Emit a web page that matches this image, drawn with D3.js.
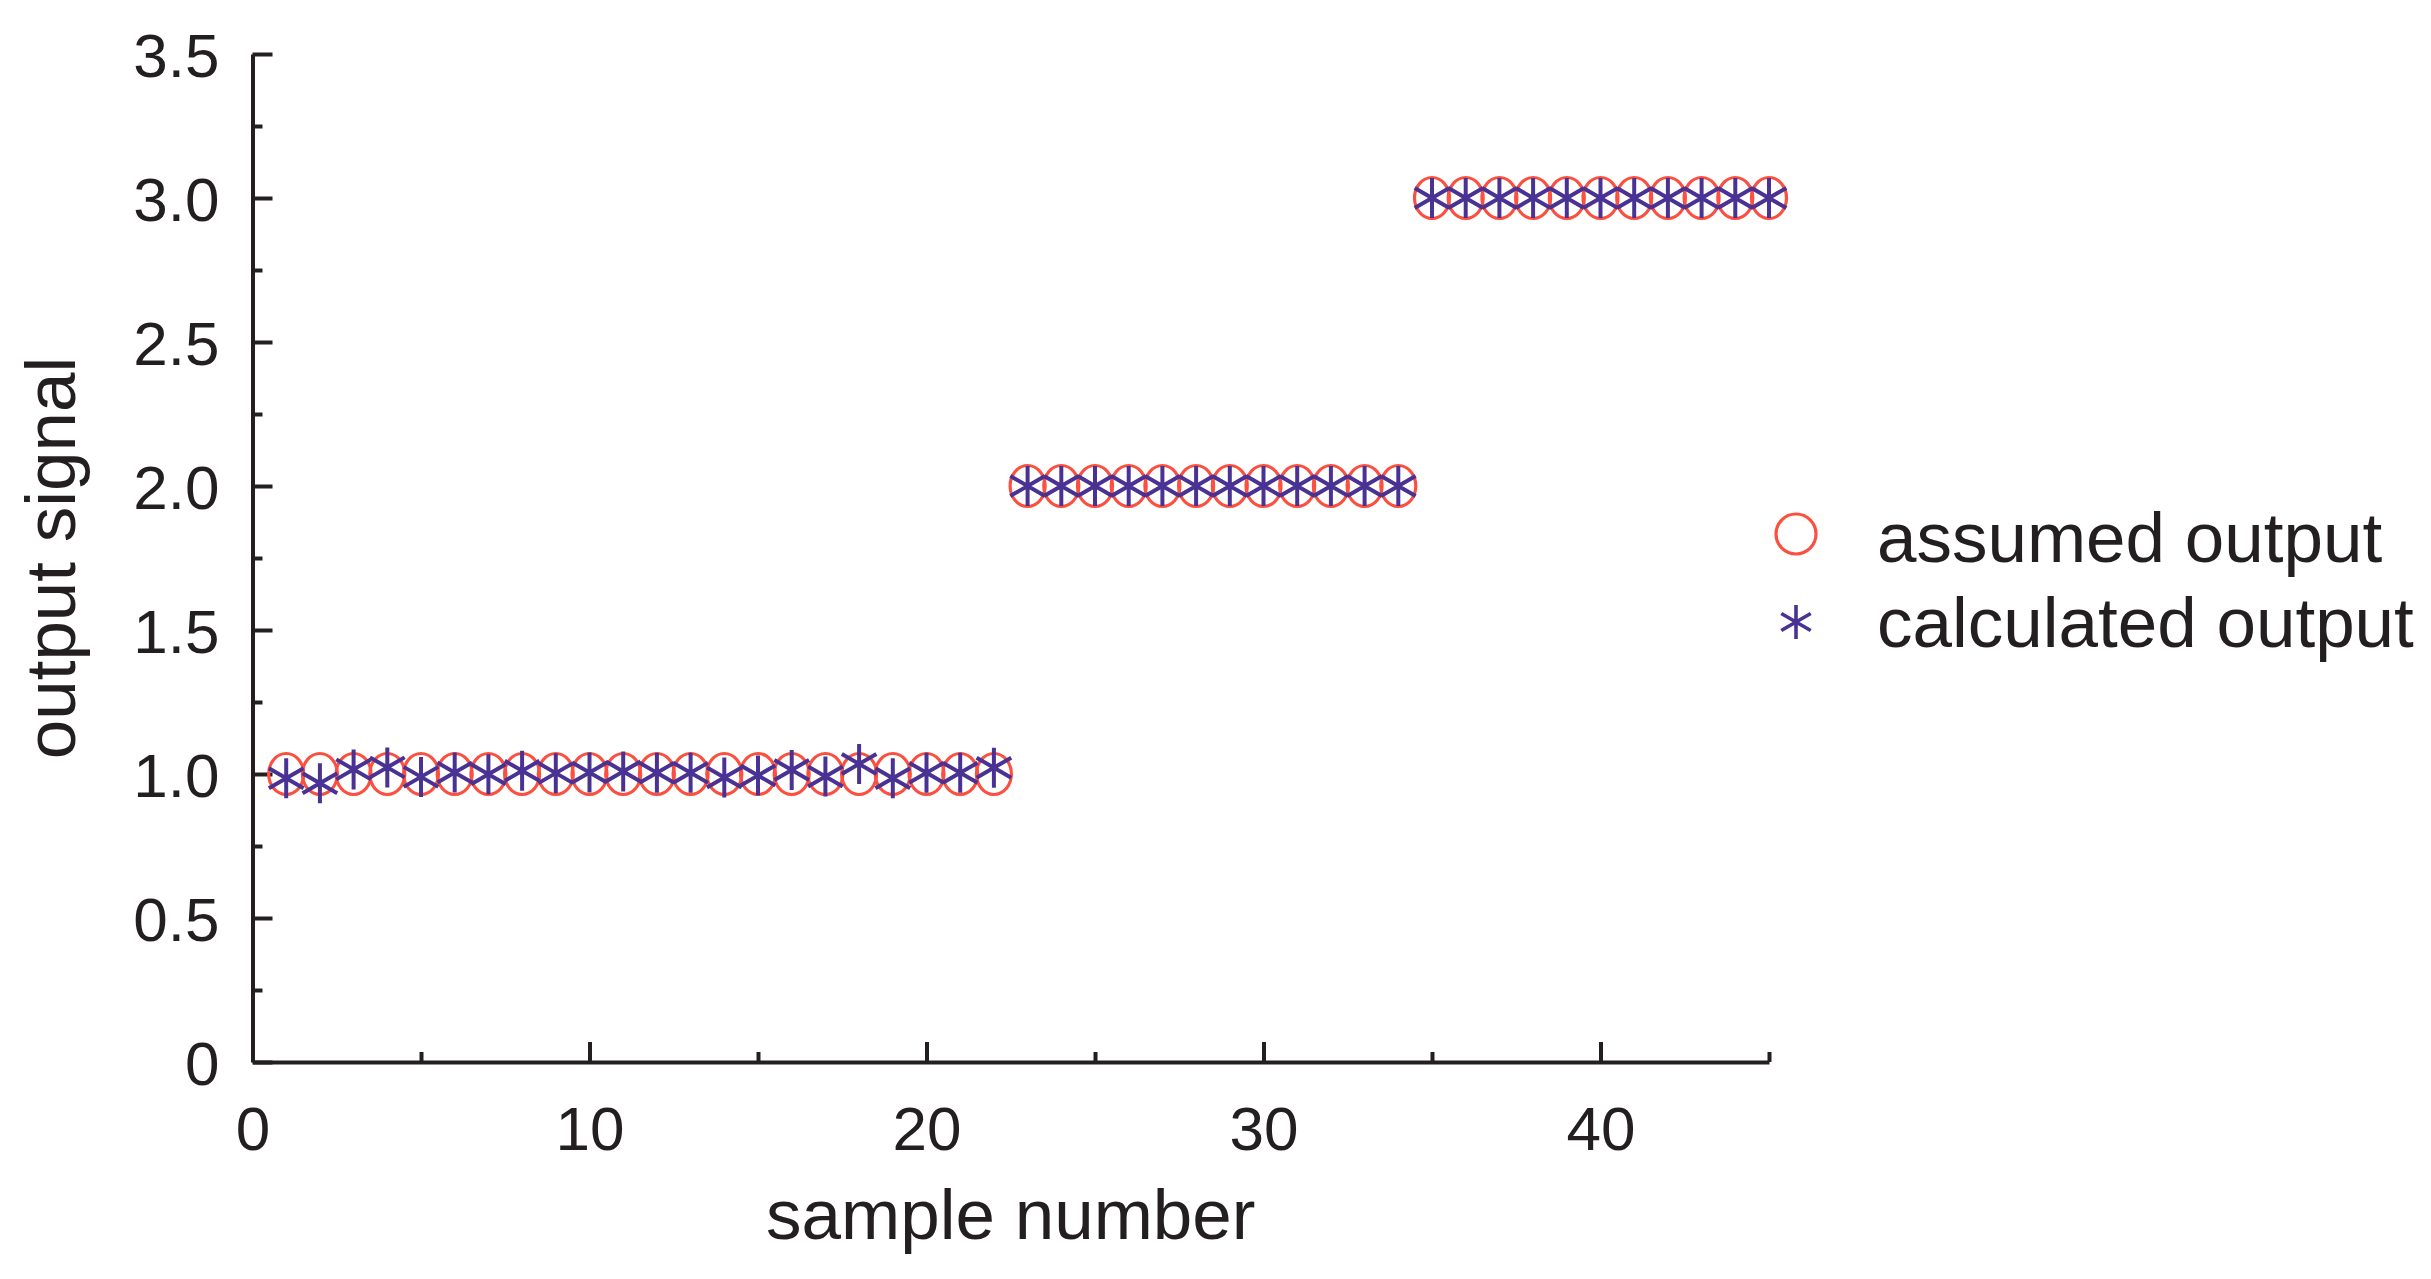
<!DOCTYPE html>
<html>
<head>
<meta charset="utf-8">
<script src="https://cdn.jsdelivr.net/npm/d3@7"></script>
<style>
  html, body { margin: 0; padding: 0; background: #fff; }
  svg { display: block; }
  text { font-family: "Liberation Sans", Arial, Helvetica, sans-serif; fill: #231f20; }
</style>
</head>
<body>
<svg id="chart" width="2431" height="1279"></svg>
<script>
// ---- data ----
const samples = [1,2,3,4,5,6,7,8,9,10,11,12,13,14,15,16,17,18,19,20,21,22,23,24,25,26,27,28,29,30,31,32,33,34,35,36,37,38,39,40,41,42,43,44,45];
const assumedOutput = [1,1,1,1,1,1,1,1,1,1,1,1,1,1,1,1,1,1,1,1,1,1,
                       2,2,2,2,2,2,2,2,2,2,2,2,
                       3,3,3,3,3,3,3,3,3,3,3];
const calculatedOutput = [0.985,0.968,1.016,1.023,0.990,1.005,0.999,1.011,1.003,1.005,1.009,1.004,1.004,0.988,0.995,1.014,0.991,1.035,0.985,1.004,1.004,1.022,
                          2.0,2.0,2.0,2.0,2.0,2.0,2.0,2.0,2.0,2.0,2.0,2.0,
                          3.0,3.0,3.0,3.0,3.0,3.0,3.0,3.0,3.0,3.0,3.0];
const xMajorTicks = [0,10,20,30,40];
const xMinorTicks = [5,15,25,35,45];
const yMajorTicks = [0,0.5,1.0,1.5,2.0,2.5,3.0,3.5];
const yTickLabels = ["0","0.5","1.0","1.5","2.0","2.5","3.0","3.5"];
const yMinorTicks = [0.25,0.75,1.25,1.75,2.25,2.75,3.25];
const seriesNames = ["assumed output","calculated output"];
const xTitle = "sample number";
const yTitle = "output signal";

// ---- layout ----
const axisColor = "#231f20";
const circleColor = "#fb5040";
const starColor = "#4a3294";

const svg = d3.select("#chart");
const x = d3.scaleLinear().domain([0,45]).range([252.5,1769]);
const y = d3.scaleLinear().domain([0,3.5]).range([1062,54]);

// axes
const gx = svg.append("g").attr("transform",`translate(0,${y(0)})`);
gx.call(d3.axisBottom(x).tickValues(xMajorTicks).tickSize(-20).tickSizeOuter(0).tickPadding(0).tickFormat(d3.format("d")));
const gxm = svg.append("g").attr("transform",`translate(0,${y(0)})`);
gxm.call(d3.axisBottom(x).tickValues(xMinorTicks).tickSize(-10).tickSizeOuter(0).tickFormat(""));
gxm.select(".domain").remove();

const gy = svg.append("g").attr("transform",`translate(${x(0)},0)`);
gy.call(d3.axisLeft(y).tickValues(yMajorTicks).tickSize(-20).tickSizeOuter(0).tickPadding(33)
  .tickFormat((d,i)=>yTickLabels[i]));
const gym = svg.append("g").attr("transform",`translate(${x(0)},0)`);
gym.call(d3.axisLeft(y).tickValues(yMinorTicks).tickSize(-10).tickSizeOuter(0).tickFormat(""));
gym.select(".domain").remove();

svg.selectAll(".domain").attr("stroke",axisColor).attr("stroke-width",4);
svg.selectAll(".tick line").attr("stroke",axisColor).attr("stroke-width",4);
svg.selectAll(".tick text").attr("font-size",62).attr("fill",axisColor)
   .style("font-family",'"Liberation Sans", Arial, sans-serif');
gx.selectAll(".tick text").attr("y",null).attr("dy",null).attr("transform",null)
   .attr("y",88);
gy.selectAll(".tick text").attr("dy","0.36em");

// axis titles
svg.append("text").attr("x",(x(0)+x(45))/2).attr("y",1239).attr("text-anchor","middle")
   .attr("font-size",71).text(xTitle);
svg.append("text").attr("transform",`translate(75,${(y(0)+y(3.5))/2}) rotate(-90)`)
   .attr("text-anchor","middle").attr("font-size",71).text(yTitle);

// markers
function starPath(r){
  const a = [90,30,-30].map(t=>t*Math.PI/180);
  return a.map(t=>`M${-r*Math.cos(t)},${r*Math.sin(t)}L${r*Math.cos(t)},${-r*Math.sin(t)}`).join("");
}
const pts = samples.map((s,i)=>({s, a:assumedOutput[i], c:calculatedOutput[i]}));

svg.append("g").selectAll("ellipse").data(pts).join("ellipse")
  .attr("cx",d=>x(d.s)).attr("cy",d=>y(d.a)).attr("rx",17.5).attr("ry",20.5)
  .attr("fill","none").attr("stroke",circleColor).attr("stroke-width",3.2);

svg.append("g").selectAll("path").data(pts).join("path")
  .attr("transform",d=>`translate(${x(d.s)},${y(d.c)})`)
  .attr("d",starPath(20)).attr("fill","none").attr("stroke",starColor).attr("stroke-width",4);

// legend
const lg = svg.append("g");
lg.append("circle").attr("cx",1796).attr("cy",534).attr("r",20)
  .attr("fill","none").attr("stroke",circleColor).attr("stroke-width",3.2);
lg.append("path").attr("transform","translate(1796,622)").attr("d",starPath(17))
  .attr("fill","none").attr("stroke",starColor).attr("stroke-width",3.6);
lg.append("text").attr("x",1877).attr("y",562).attr("font-size",71).text(seriesNames[0]);
lg.append("text").attr("x",1877).attr("y",647).attr("font-size",71).text(seriesNames[1]);
</script>
</body>
</html>
